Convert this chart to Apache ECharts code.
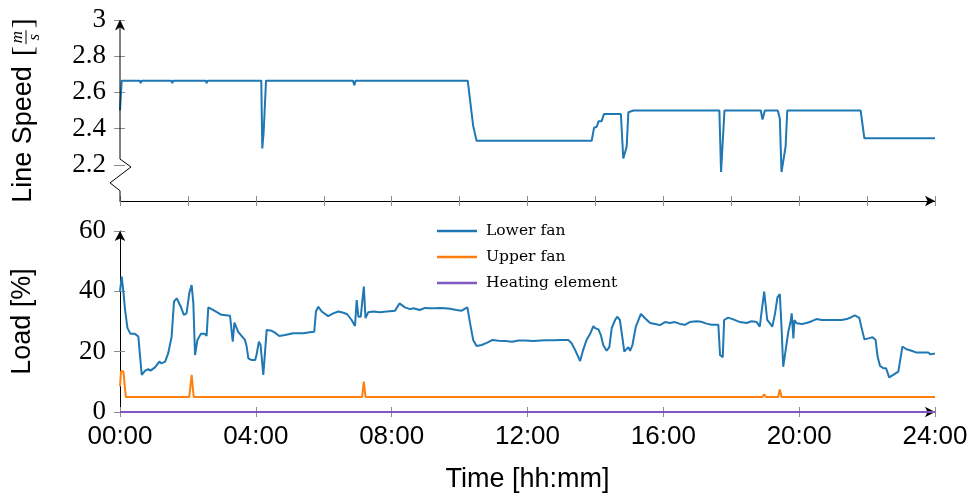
<!DOCTYPE html>
<html>
<head>
<meta charset="utf-8">
<script src="https://cdn.jsdelivr.net/npm/echarts@6/dist/echarts.min.js"></script>
<style>
  html, body { margin: 0; padding: 0; background: #fff; }
  #chart { width: 972px; height: 496px; }
</style>
</head>
<body>
<div id="chart"></div>
<script>
// Time of day in hours (0 = 00:00, 24 = 24:00)
const speedTime = [0, 0.05, 0.58, 0.61, 0.64, 1.51, 1.54, 1.57, 2.52, 2.55, 2.58, 4.16, 4.19, 4.23, 4.30,
  6.86, 6.90, 6.94, 10.24, 10.40, 10.50, 10.87, 10.90, 10.93, 13.34, 13.37, 13.40, 13.89, 13.96, 14.04,
  14.09, 14.18, 14.25, 14.75, 14.82, 14.87, 14.92, 14.97, 15.12, 17.65, 17.70, 17.75, 17.80, 18.87,
  18.92, 18.99, 19.37, 19.43, 19.48, 19.53, 19.60, 19.65, 21.81, 21.92, 24.00];
const speedValue = [2.50, 2.665, 2.665, 2.652, 2.665, 2.665, 2.652, 2.665, 2.665, 2.652, 2.665, 2.665, 2.29, 2.38, 2.665,
  2.665, 2.64, 2.665, 2.665, 2.415, 2.333, 2.333, 2.325, 2.333, 2.333, 2.328, 2.333, 2.333, 2.405, 2.41,
  2.44, 2.44, 2.48, 2.48, 2.235, 2.235, 2.30, 2.49, 2.50, 2.50, 2.16, 2.155, 2.50, 2.50,
  2.45, 2.50, 2.50, 2.456, 2.16, 2.16, 2.30, 2.50, 2.50, 2.346, 2.346];

const lowerTime = [0, 0.05, 0.10, 0.15, 0.22, 0.31, 0.44, 0.54, 0.64, 0.74, 0.83, 0.90, 1.03, 1.16, 1.22, 1.33,
  1.42, 1.52, 1.59, 1.67, 1.79, 1.88, 1.96, 2.04, 2.11, 2.16, 2.21, 2.28, 2.38, 2.50, 2.55, 2.60, 2.75,
  2.99, 3.24, 3.32, 3.37, 3.48, 3.58, 3.68, 3.73, 3.78, 3.88, 3.98, 4.02, 4.09, 4.14, 4.22, 4.32, 4.47,
  4.56, 4.69, 4.86, 5.10, 5.40, 5.59, 5.72, 5.77, 5.84, 5.94, 6.13, 6.28, 6.43, 6.58, 6.69, 6.82, 6.92,
  6.97, 7.02, 7.09, 7.18, 7.23, 7.31, 7.46, 7.65, 7.85, 8.10, 8.23, 8.39, 8.54, 8.64, 8.83, 8.98, 9.13,
  9.28, 9.42, 9.57, 9.72, 9.91, 10.06, 10.23, 10.31, 10.40, 10.50, 10.65, 10.80, 10.97, 11.15, 11.35,
  11.54, 11.74, 11.93, 12.18, 12.38, 12.57, 12.77, 12.97, 13.20, 13.30, 13.40, 13.55, 13.64, 13.74,
  13.86, 13.94, 13.99, 14.09, 14.16, 14.23, 14.33, 14.41, 14.48, 14.58, 14.64, 14.72, 14.79, 14.85,
  14.90, 14.97, 15.02, 15.09, 15.19, 15.34, 15.46, 15.61, 15.76, 15.90, 16.05, 16.19, 16.34, 16.49,
  16.63, 16.78, 16.98, 17.12, 17.27, 17.42, 17.62, 17.67, 17.75, 17.79, 17.91, 18.06, 18.26, 18.45,
  18.60, 18.75, 18.84, 18.90, 18.97, 19.06, 19.14, 19.21, 19.29, 19.36, 19.43, 19.48, 19.53, 19.61,
  19.68, 19.75, 19.78, 19.83, 19.86, 19.93, 20.08, 20.22, 20.37, 20.51, 20.66, 20.81, 20.96, 21.10,
  21.25, 21.40, 21.55, 21.64, 21.77, 21.84, 21.92, 22.04, 22.16, 22.25, 22.31, 22.38, 22.48, 22.56,
  22.65, 22.77, 22.92, 23.04, 23.16, 23.31, 23.46, 23.65, 23.80, 23.87, 24.00];
const lowerLoad = [39.9, 44.9, 39.9, 33.8, 27.8, 25.9, 25.9, 25.0, 12.3, 13.7, 14.2, 13.7, 14.8, 16.7, 16.1, 16.7,
  19.5, 25.0, 36.6, 37.7, 34.9, 32.2, 32.7, 39.4, 42.1, 36.0, 18.9, 23.9, 25.9, 25.9, 25.2, 34.7, 33.8,
  32.2, 31.9, 23.3, 29.6, 26.6, 25.2, 23.9, 21.7, 17.8, 17.2, 17.2, 18.9, 23.3, 22.2, 12.3, 27.2, 26.9,
  26.3, 25.2, 25.5, 26.1, 26.1, 26.4, 26.6, 33.3, 34.9, 33.3, 31.8, 32.7, 33.3, 32.9, 32.4, 30.5, 28.5,
  37.1, 31.6, 31.6, 41.6, 31.1, 33.1, 33.3, 33.1, 33.3, 33.6, 36.0, 34.7, 34.1, 34.4, 33.8, 34.5, 34.4,
  34.4, 34.5, 34.4, 34.2, 33.8, 33.6, 34.7, 29.4, 23.9, 21.9, 22.2, 22.9, 23.9, 23.6, 23.5,
  23.3, 23.7, 23.7, 23.5, 23.7, 23.8, 23.8, 23.9, 23.9, 22.8, 20.6, 16.9, 20.6, 23.9,
  26.3, 28.5, 27.8, 27.4, 25.5, 22.2, 20.3, 21.5, 27.8, 30.5, 31.6, 30.5, 25.0, 20.0,
  19.4, 21.5, 20.3, 22.2, 28.3, 32.5, 31.1, 29.5, 29.2, 28.8, 29.8, 29.5, 29.8, 29.2,
  28.9, 29.8, 30.1, 29.9, 29.3, 28.9, 28.9, 18.9, 18.2, 30.5, 31.3, 30.7, 29.8, 29.5,
  30.1, 29.8, 28.3, 33.8, 39.9, 30.5, 29.4, 28.3, 32.7, 38.0, 39.1, 28.3, 15.0, 21.1,
  26.6, 30.1, 32.7, 24.4, 30.5, 29.4, 29.2, 29.5, 30.1, 30.8, 30.5, 30.5, 30.5, 30.5,
  30.5, 30.8, 31.5, 32.0, 31.2, 27.8, 24.1, 24.4, 24.8, 23.9, 18.3, 15.3, 14.5, 14.5,
  11.5, 12.3, 13.4, 21.7, 20.8, 20.3, 19.7, 19.7, 19.7, 19.1, 19.4];

const upperTime = [0, 0.03, 0.10, 0.17, 2.04, 2.11, 2.17, 7.13, 7.18, 7.23, 18.92, 18.97, 19.02, 19.38, 19.43, 19.48, 24];
const upperLoad = [8.5, 13.5, 13.5, 5, 5, 12.3, 5, 5, 10.1, 5, 5, 5.9, 5, 5, 7.5, 5, 5];

const heatTime = [0, 24];
const heatLoad = [0, 0];

const speedTicks = [2.2, 2.4, 2.6, 2.8, 3.0];
const seriesNames = ['Lower fan', 'Upper fan', 'Heating element'];
const seriesColors = ['#1f77b4', '#ff7f0e', '#7e57c2'];

const zip = (xs, ys) => xs.map((x, i) => [x, ys[i]]);
const hhmm = h => String(h).padStart(2, '0') + ':00';

const GRID_LEFT = 120, GRID_RIGHT = 37;
const TOP_GRID = { top: 20, height: 181 };
const BOTTOM_GRID = { top: 231, height: 181 };

const serifFont = 'Liberation Serif';
const sansFont = 'Liberation Sans';
const tickColor = '#8c8c8c';

// Each axis is drawn twice: once with outward ticks and once with inward ticks,
// so that the tick marks cross the axis line.
function xAxisPair(gridIndex, interval, showLabels, withName) {
  const base = { type: 'value', gridIndex, min: 0, max: 24, interval, position: 'bottom', splitLine: { show: false } };
  return [
    Object.assign({}, base, {
      axisLine: { show: true, symbol: ['none', 'arrow'], symbolSize: [8, 10], lineStyle: { color: '#000', width: 1 } },
      axisTick: { show: true, inside: false, length: 5, lineStyle: { color: tickColor, width: 1 } },
      axisLabel: { show: showLabels, formatter: hhmm, margin: 12, fontFamily: sansFont, fontSize: 26, color: '#000' },
      name: withName ? 'Time [hh:mm]' : '',
      nameLocation: 'middle', nameGap: 54,
      nameTextStyle: { fontFamily: sansFont, fontSize: 27, color: '#000' }
    }),
    Object.assign({}, base, {
      axisLine: { show: false },
      axisTick: { show: true, inside: true, length: 5, lineStyle: { color: tickColor, width: 1 } },
      axisLabel: { show: false }
    })
  ];
}

const option = {
  animation: false,
  backgroundColor: '#fff',
  grid: [
    { left: GRID_LEFT, right: GRID_RIGHT, top: TOP_GRID.top, height: TOP_GRID.height },
    { left: GRID_LEFT, right: GRID_RIGHT, top: BOTTOM_GRID.top, height: BOTTOM_GRID.height }
  ],
  xAxis: [].concat(xAxisPair(0, 2, false, false), xAxisPair(1, 4, true, true)),
  yAxis: [
    {
      type: 'value', gridIndex: 0, min: 2.0, max: 3.0, interval: 0.2, position: 'left',
      splitLine: { show: false },
      axisLine: { show: false },
      axisTick: { show: true, inside: false, length: 6, customValues: speedTicks, lineStyle: { color: tickColor } },
      axisLabel: {
        customValues: speedTicks, margin: 14, fontFamily: serifFont, fontSize: 27, color: '#000',
        formatter: v => (Math.abs(v - 3) < 1e-9 ? '3' : v.toFixed(1))
      }
    },
    {
      type: 'value', gridIndex: 0, min: 2.0, max: 3.0, interval: 0.2, position: 'left',
      splitLine: { show: false }, axisLine: { show: false }, axisLabel: { show: false },
      axisTick: { show: true, inside: true, length: 5, customValues: speedTicks, lineStyle: { color: tickColor } }
    },
    {
      type: 'value', gridIndex: 1, min: 0, max: 60, interval: 20, position: 'left',
      splitLine: { show: false },
      axisLine: { show: true, symbol: ['none', 'arrow'], symbolSize: [8, 10], lineStyle: { color: '#000', width: 1 } },
      axisTick: { show: true, inside: false, length: 6, lineStyle: { color: tickColor } },
      axisLabel: { margin: 14, fontFamily: serifFont, fontSize: 27, color: '#000' },
      name: 'Load [%]', nameLocation: 'middle', nameGap: 84, nameRotate: 90,
      nameTextStyle: { fontFamily: sansFont, fontSize: 27, color: '#000' }
    },
    {
      type: 'value', gridIndex: 1, min: 0, max: 60, interval: 20, position: 'left',
      splitLine: { show: false }, axisLine: { show: false }, axisLabel: { show: false },
      axisTick: { show: true, inside: true, length: 5, lineStyle: { color: tickColor } }
    }
  ],
  legend: {
    data: seriesNames,
    orient: 'vertical',
    left: 432, top: 216,
    icon: 'rect',
    itemWidth: 40, itemHeight: 2.5, itemGap: 6,
    textStyle: { fontFamily: 'DejaVu Serif', fontSize: 15.5, color: '#000', lineHeight: 20, padding: [0, 0, 0, 4] },
    selectedMode: false
  },
  series: [
    {
      name: 'Line speed', type: 'line', xAxisIndex: 0, yAxisIndex: 0,
      data: zip(speedTime, speedValue), showSymbol: false, symbol: 'none',
      lineStyle: { color: seriesColors[0], width: 2 }, itemStyle: { color: seriesColors[0] }
    },
    {
      name: seriesNames[0], type: 'line', xAxisIndex: 2, yAxisIndex: 2, z: 4,
      data: zip(lowerTime, lowerLoad), showSymbol: false, symbol: 'none',
      lineStyle: { color: seriesColors[0], width: 2 }, itemStyle: { color: seriesColors[0] }
    },
    {
      name: seriesNames[1], type: 'line', xAxisIndex: 2, yAxisIndex: 2, z: 3,
      data: zip(upperTime, upperLoad), showSymbol: false, symbol: 'none',
      lineStyle: { color: seriesColors[1], width: 2 }, itemStyle: { color: seriesColors[1] }
    },
    {
      name: seriesNames[2], type: 'line', xAxisIndex: 2, yAxisIndex: 2, z: 3,
      data: zip(heatTime, heatLoad), showSymbol: false, symbol: 'none',
      lineStyle: { color: seriesColors[2], width: 2 }, itemStyle: { color: seriesColors[2] }
    }
  ]
};

const chart = echarts.init(document.getElementById('chart'), null, { renderer: 'canvas' });
chart.setOption(option);

// Speed axis: a vertical line with an arrow at the top and a zigzag marking the
// broken range between 2.0 and 2.2, plus the axis title with a fraction unit.
function drawSpeedAxis() {
  const px = v => chart.convertToPixel({ gridIndex: 0 }, [0, v]);
  const [ax, yTop] = px(3.0);
  const yBreakTop = px(2.232)[1];
  const yPeak = px(2.188)[1];
  const yValley = px(2.10)[1];
  const yBreakEnd = px(2.057)[1];
  const yBottom = px(2.0)[1];
  const lineStyle = { stroke: '#000', lineWidth: 1, fill: null };

  const measure = (text, font) => {
    const ctx = document.createElement('canvas').getContext('2d');
    ctx.font = font;
    return ctx.measureText(text).width;
  };
  const titleFont = '27px "' + sansFont + '"';
  const bracketFont = '30px "' + serifFont + '"';
  const w1 = measure('Line Speed', titleFont);
  const bw = measure('[', bracketFont);
  const bracketOpen = w1 + 10;
  const fracCenter = bracketOpen + bw + 9;
  const bracketClose = fracCenter + 9;
  const midY = TOP_GRID.top + TOP_GRID.height / 2;
  const totalLen = bracketClose + bw;

  chart.setOption({
    graphic: [
      {
        type: 'polyline', z: 50, silent: true,
        shape: { points: [[ax, yTop + 6], [ax, yBreakTop], [ax + 11, yPeak], [ax - 10, yValley], [ax, yBreakEnd], [ax, yBottom]] },
        style: lineStyle
      },
      {
        type: 'polygon', z: 50, silent: true,
        shape: { points: [[ax, yTop], [ax - 4.5, yTop + 10], [ax, yTop + 7], [ax + 4.5, yTop + 10]] },
        style: { fill: '#000', stroke: '#000', lineWidth: 0.5 }
      },
      {
        type: 'group', z: 50, silent: true,
        x: 24, y: midY + totalLen / 2,
        rotation: Math.PI / 2,
        children: [
          { type: 'text', style: { x: 0, y: 0, text: 'Line Speed', font: titleFont, fill: '#000', textAlign: 'left', textVerticalAlign: 'middle' } },
          { type: 'text', style: { x: bracketOpen, y: 0, text: '[', font: bracketFont, fill: '#000', textAlign: 'left', textVerticalAlign: 'middle' } },
          { type: 'text', style: { x: fracCenter, y: -6, text: 'm', font: 'italic 17px "' + serifFont + '"', fill: '#000', textAlign: 'center', textVerticalAlign: 'middle' } },
          { type: 'line', shape: { x1: fracCenter - 7, y1: 2, x2: fracCenter + 7, y2: 2 }, style: { stroke: '#000', lineWidth: 1 } },
          { type: 'text', style: { x: fracCenter, y: 11, text: 's', font: 'italic 17px "' + serifFont + '"', fill: '#000', textAlign: 'center', textVerticalAlign: 'middle' } },
          { type: 'text', style: { x: bracketClose, y: 0, text: ']', font: bracketFont, fill: '#000', textAlign: 'left', textVerticalAlign: 'middle' } }
        ]
      }
    ]
  });
}
drawSpeedAxis();
</script>
</body>
</html>
